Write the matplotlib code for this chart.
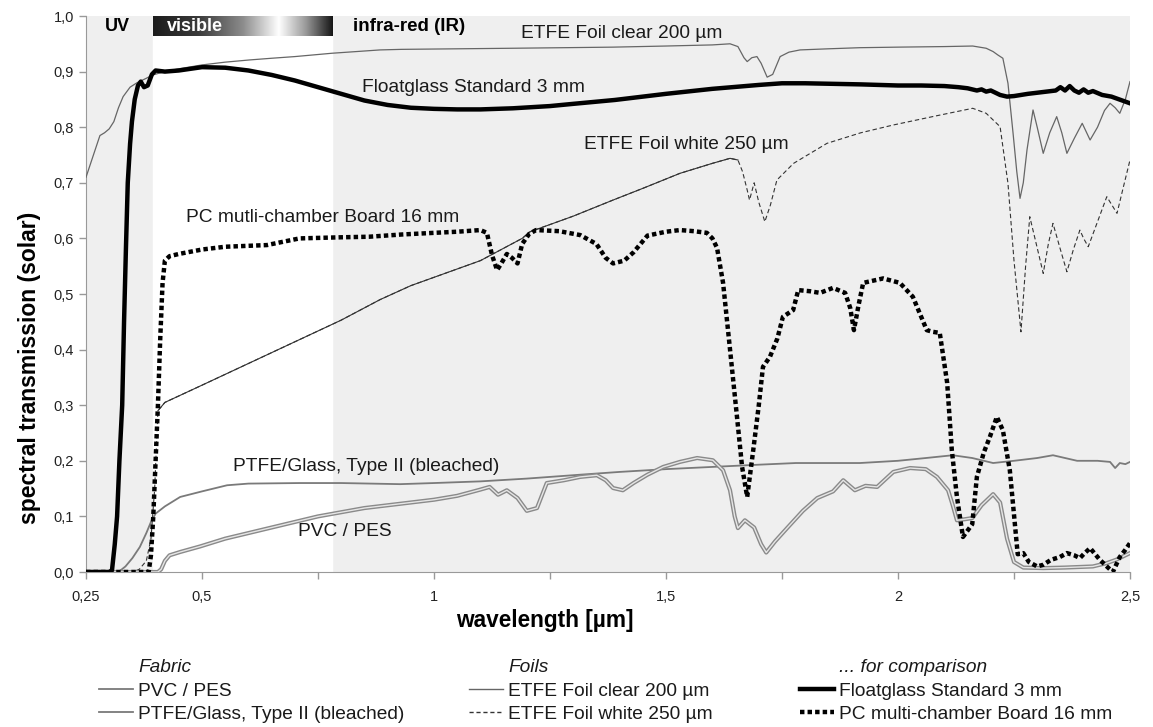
import numpy as np
import matplotlib
matplotlib.use("Agg")
import matplotlib.pyplot as plt
from matplotlib.colors import LinearSegmentedColormap
from matplotlib.lines import Line2D
from matplotlib.ticker import FixedLocator, FuncFormatter

plt.rcParams['font.family'] = ['Liberation Sans', 'DejaVu Sans']

# wavelength [um] / transmission
lam_float = [0.25, 0.30, 0.306, 0.312, 0.317, 0.322, 0.328, 0.332, 0.336, 0.340,
             0.345, 0.349, 0.355, 0.362, 0.368, 0.375, 0.383, 0.392, 0.40, 0.42,
             0.45, 0.50, 0.55, 0.60, 0.65, 0.70, 0.75, 0.80, 0.85, 0.90,
             0.95, 1.00, 1.05, 1.10, 1.17, 1.25, 1.30, 1.39, 1.45, 1.50,
             1.60, 1.70, 1.75, 1.80, 1.92, 2.00, 2.05, 2.10, 2.13, 2.15,
             2.17, 2.18, 2.19, 2.20, 2.21, 2.22, 2.235, 2.25, 2.28, 2.30,
             2.32, 2.34, 2.35, 2.36, 2.37, 2.38, 2.39, 2.40, 2.41, 2.42,
             2.44, 2.46, 2.48, 2.50]
T_float = [0.0, 0.0, 0.003, 0.05, 0.1, 0.2, 0.3, 0.45, 0.58, 0.7,
           0.77, 0.81, 0.85, 0.875, 0.882, 0.872, 0.875, 0.895, 0.902, 0.9,
           0.902, 0.908, 0.907, 0.902, 0.894, 0.884, 0.872, 0.86, 0.848, 0.84,
           0.835, 0.833, 0.832, 0.832, 0.834, 0.838, 0.842, 0.849, 0.855, 0.86,
           0.869, 0.876, 0.879, 0.879, 0.877, 0.875, 0.875, 0.874, 0.872, 0.870,
           0.866, 0.868, 0.864, 0.866, 0.862, 0.858, 0.855, 0.856, 0.86, 0.862,
           0.864, 0.866, 0.872, 0.866, 0.874, 0.866, 0.862, 0.868, 0.862, 0.865,
           0.858, 0.855, 0.849, 0.843]

lam_pc = [0.25, 0.385, 0.39, 0.395, 0.40, 0.405, 0.41, 0.415, 0.42, 0.43,
          0.45, 0.50, 0.55, 0.64, 0.71, 0.80, 0.86, 0.93, 1.00, 1.05,
          1.10, 1.114, 1.125, 1.136, 1.145, 1.157, 1.168, 1.18, 1.19, 1.205,
          1.22, 1.27, 1.315, 1.35, 1.37, 1.386, 1.41, 1.43, 1.46, 1.50,
          1.53, 1.56, 1.588, 1.60, 1.61, 1.623, 1.638, 1.653, 1.664, 1.675,
          1.688, 1.70, 1.709, 1.724, 1.74, 1.752, 1.774, 1.785, 1.81, 1.832,
          1.86, 1.886, 1.897, 1.905, 1.915, 1.925, 1.968, 2.004, 2.032, 2.062,
          2.075, 2.09, 2.106, 2.116, 2.127, 2.14, 2.16, 2.17, 2.185, 2.198,
          2.213, 2.226, 2.241, 2.258, 2.27, 2.282, 2.30, 2.313, 2.33, 2.349,
          2.364, 2.38, 2.392, 2.40, 2.414, 2.435, 2.45, 2.463, 2.478, 2.49,
          2.50]
T_pc = [0.0, 0.0, 0.03, 0.1, 0.2, 0.3, 0.42, 0.52, 0.56, 0.568,
        0.572, 0.58, 0.585, 0.588, 0.6, 0.602, 0.603, 0.607, 0.61, 0.612,
        0.615, 0.61, 0.57, 0.543, 0.555, 0.572, 0.565, 0.555, 0.59, 0.608,
        0.615, 0.613, 0.606, 0.59, 0.565, 0.555, 0.56, 0.575, 0.605, 0.612,
        0.615, 0.613, 0.61, 0.6, 0.583, 0.52, 0.4, 0.279, 0.189, 0.135,
        0.219, 0.3, 0.369, 0.387, 0.42, 0.459, 0.471, 0.507, 0.505, 0.502,
        0.511, 0.502, 0.475, 0.435, 0.48, 0.52, 0.528, 0.52, 0.495, 0.435,
        0.432, 0.43, 0.34, 0.219, 0.135, 0.063, 0.086, 0.171, 0.215, 0.243,
        0.279, 0.255, 0.183, 0.032, 0.034, 0.018, 0.01, 0.013, 0.022, 0.027,
        0.034, 0.03, 0.025, 0.032, 0.043, 0.022, 0.01, 0.0, 0.027, 0.04,
        0.052]

lam_clear = [0.25, 0.26, 0.27, 0.28, 0.29, 0.30, 0.31, 0.32, 0.33, 0.345,
             0.36, 0.38, 0.394, 0.42, 0.45, 0.50, 0.55, 0.603, 0.65, 0.70,
             0.78, 0.884, 0.93, 1.05, 1.17, 1.28, 1.386, 1.50, 1.60, 1.638,
             1.655, 1.668, 1.675, 1.685, 1.696, 1.705, 1.718, 1.73, 1.746, 1.765,
             1.789, 1.85, 1.918, 2.0, 2.1, 2.161, 2.19, 2.205, 2.215, 2.226,
             2.237, 2.248, 2.256, 2.263, 2.27, 2.278, 2.291, 2.30, 2.313, 2.327,
             2.342, 2.353, 2.364, 2.38, 2.397, 2.414, 2.43, 2.445, 2.457, 2.468,
             2.478, 2.49, 2.50]
T_clear = [0.71, 0.735, 0.76, 0.785, 0.79, 0.797, 0.81, 0.835, 0.855, 0.872,
           0.88, 0.888, 0.894, 0.9, 0.905, 0.912, 0.917, 0.921, 0.924, 0.927,
           0.933, 0.939, 0.94, 0.941, 0.942, 0.943, 0.944, 0.946, 0.948, 0.95,
           0.945, 0.925, 0.918, 0.925, 0.927, 0.915, 0.89, 0.895, 0.927, 0.935,
           0.939, 0.941, 0.943, 0.944, 0.945, 0.946, 0.942, 0.936, 0.93, 0.924,
           0.879, 0.789, 0.72, 0.672, 0.7, 0.759, 0.831, 0.8, 0.753, 0.79,
           0.819, 0.79, 0.753, 0.78, 0.807, 0.777, 0.8, 0.83, 0.843, 0.835,
           0.825, 0.85, 0.882]

lam_white = [0.25, 0.35, 0.365, 0.38, 0.39, 0.398, 0.405, 0.42, 0.5, 0.6,
             0.7, 0.8, 0.884, 0.95, 1.0, 1.1, 1.19, 1.207, 1.3, 1.386,
             1.45, 1.53, 1.6, 1.638, 1.655, 1.665, 1.675, 1.68, 1.69, 1.70,
             1.713, 1.725, 1.739, 1.775, 1.847, 1.92, 1.99, 2.08, 2.161, 2.19,
             2.205, 2.22, 2.237, 2.25, 2.265, 2.275, 2.284, 2.298, 2.313, 2.324,
             2.334, 2.35, 2.364, 2.378, 2.392, 2.40, 2.41, 2.43, 2.45, 2.472,
             2.485, 2.50]
T_white = [0.0, 0.0, 0.005, 0.02, 0.06, 0.15, 0.29, 0.305, 0.336, 0.375,
           0.414, 0.453, 0.49, 0.515, 0.53, 0.56, 0.6, 0.612, 0.64, 0.669,
           0.69, 0.717, 0.735, 0.744, 0.741, 0.72, 0.687, 0.669, 0.70, 0.665,
           0.63, 0.66, 0.705, 0.735, 0.771, 0.79, 0.804, 0.82, 0.834, 0.825,
           0.813, 0.801, 0.699, 0.56, 0.432, 0.55, 0.639, 0.59, 0.537, 0.59,
           0.627, 0.58, 0.54, 0.58, 0.615, 0.6, 0.585, 0.63, 0.675, 0.645,
           0.69, 0.741]

lam_ptfe = [0.25, 0.32, 0.335, 0.35, 0.366, 0.38, 0.39, 0.40, 0.42, 0.453,
            0.50, 0.554, 0.60, 0.711, 0.80, 0.927, 1.0, 1.1, 1.2, 1.315,
            1.40, 1.50, 1.60, 1.70, 1.78, 1.85, 1.918, 2.0, 2.06, 2.118,
            2.16, 2.205, 2.25, 2.30, 2.334, 2.386, 2.43, 2.457, 2.468, 2.478,
            2.49, 2.50]
T_ptfe = [0.0, 0.0, 0.01, 0.025, 0.045, 0.07, 0.09, 0.105, 0.118, 0.135,
          0.145, 0.156, 0.159, 0.16, 0.16, 0.158, 0.16, 0.163, 0.168, 0.175,
          0.18, 0.185, 0.189, 0.193, 0.196, 0.196, 0.196, 0.2, 0.205, 0.21,
          0.205, 0.196, 0.2, 0.205, 0.21, 0.2, 0.2, 0.198, 0.187, 0.196,
          0.194, 0.198]

lam_pvc = [0.25, 0.405, 0.412, 0.42, 0.43, 0.453, 0.496, 0.55, 0.65, 0.75,
           0.85, 0.95, 1.0, 1.05, 1.099, 1.12, 1.138, 1.157, 1.18, 1.20,
           1.222, 1.243, 1.28, 1.315, 1.351, 1.37, 1.386, 1.407, 1.43, 1.46,
           1.494, 1.53, 1.567, 1.601, 1.623, 1.638, 1.648, 1.655, 1.67, 1.69,
           1.705, 1.716, 1.735, 1.761, 1.795, 1.826, 1.86, 1.882, 1.907, 1.93,
           1.955, 1.99, 2.026, 2.06, 2.084, 2.108, 2.118, 2.127, 2.145, 2.16,
           2.18, 2.205, 2.22, 2.235, 2.25, 2.27, 2.313, 2.36, 2.42, 2.45,
           2.47, 2.50]
T_pvc = [0.0, 0.0, 0.005, 0.02, 0.03, 0.036, 0.046, 0.06, 0.08, 0.1,
         0.115, 0.125, 0.13, 0.137, 0.148, 0.153, 0.139, 0.147, 0.133, 0.11,
         0.115, 0.16, 0.165, 0.171, 0.174, 0.165, 0.151, 0.147, 0.16, 0.175,
         0.189, 0.198, 0.205, 0.201, 0.183, 0.147, 0.1, 0.079, 0.093, 0.08,
         0.05, 0.035, 0.055, 0.079, 0.11, 0.133, 0.145, 0.165, 0.147, 0.155,
         0.153, 0.18, 0.187, 0.185, 0.171, 0.147, 0.12, 0.093, 0.095, 0.097,
         0.12, 0.14, 0.125, 0.06, 0.018, 0.008, 0.007, 0.008, 0.01, 0.016,
         0.022, 0.034]

visible_band = (0.394, 0.78)
xtick_vals = [0.25, 0.5, 0.75, 1.0, 1.25, 1.5, 1.75, 2.0, 2.25, 2.5]
xtick_shown = {0.25: '0,25', 0.5: '0,5', 1.0: '1', 1.5: '1,5', 2.0: '2', 2.5: '2,5'}

fig = plt.figure(figsize=(11.53, 7.27), dpi=100)
ax = fig.add_axes([86 / 1153, 1 - 572 / 727, 1044 / 1153, 556 / 727])
ax.set_facecolor('#efefef')
ax.axvspan(*visible_band, color='white', zorder=0)

# gradient bar for the visible range
grad_cmap = LinearSegmentedColormap.from_list(
    'vis', [(0, '#1c1c1c'), (0.25, '#3a3a3a'), (0.5, '#8c8c8c'),
            (0.7, '#ffffff'), (0.85, '#9a9a9a'), (1.0, '#161616')])
ax.imshow(np.linspace(0, 1, 256)[None, :], cmap=grad_cmap, aspect='auto',
          extent=[visible_band[0], visible_band[1], 0.964, 1.0], zorder=2)

lam_white_a = np.array(lam_white)
T_white_a = np.array(T_white)
mid = (lam_white_a >= 0.405) & (lam_white_a <= 1.655)
ax.plot(lam_white_a, T_white_a, color='#333333', lw=0.8, ls=(0, (4, 2.5)), zorder=3)
ax.plot(lam_white_a[mid], T_white_a[mid], color='#333333', lw=0.8, zorder=3)
ax.plot(lam_clear, T_clear, color='#666666', lw=0.9, zorder=3)
ax.plot(lam_ptfe, T_ptfe, color='#7a7a7a', lw=1.3, zorder=3)
ax.plot(lam_pvc, T_pvc, color='#8a8a8a', lw=3.0, zorder=3)
ax.plot(lam_pvc, T_pvc, color='#e6e6e6', lw=1.0, zorder=3)
ax.plot(lam_pc, T_pc, color='black', lw=3.2, ls=(0, (1, 0.7)), zorder=4)
ax.plot(lam_float, T_float, color='black', lw=3.2, zorder=4)

ax.set_xlim(0.25, 2.5)
ax.set_ylim(0, 1.0)

ax.xaxis.set_major_locator(FixedLocator(xtick_vals))
ax.xaxis.set_major_formatter(FuncFormatter(lambda v, p: xtick_shown.get(round(v, 2), '')))
ax.yaxis.set_major_locator(FixedLocator(np.round(np.arange(0, 1.01, 0.1), 1)))
ax.yaxis.set_major_formatter(FuncFormatter(lambda v, p: f'{v:.1f}'.replace('.', ',')))
ax.tick_params(axis='both', colors='#999999', labelcolor='#222222', labelsize=10.5,
               length=5, width=1)
ax.tick_params(axis='x', pad=8)
for s in ['top', 'right']:
    ax.spines[s].set_visible(False)
for s in ['left', 'bottom']:
    ax.spines[s].set_color('#999999')

ax.set_xlabel('wavelength [µm]', fontsize=16.3, fontweight='bold')
ax.xaxis.set_label_coords((545 - 86) / 1044, -(620 - 572) / 556)
ax.xaxis.label.set_va('center')
ax.set_ylabel('spectral transmission (solar)', fontsize=16.5, fontweight='bold')
ax.yaxis.set_label_coords((29 - 86) / 1044, (572 - 368) / 556)
ax.yaxis.label.set_va('center')

# region labels
ax.text(0.317, 0.981, 'UV', fontsize=13, fontweight='bold', ha='center', va='center', zorder=5)
ax.text(0.425, 0.981, 'visible', fontsize=13, fontweight='bold', color='white',
        ha='left', va='center', zorder=5)
ax.text(0.825, 0.981, 'infra-red (IR)', fontsize=13.5, fontweight='bold',
        ha='left', va='center', zorder=5)

# curve labels
ann = dict(fontsize=13.8, ha='center', va='center', color='#1a1a1a', zorder=5)
ax.text(1.405, 0.969, 'ETFE Foil clear 200 µm', **ann)
ax.text(1.086, 0.872, 'Floatglass Standard 3 mm', **ann)
ax.text(1.543, 0.768, 'ETFE Foil white 250 µm', **ann)
ax.text(0.759, 0.637, 'PC mutli-chamber Board 16 mm', **ann)
ax.text(0.853, 0.189, 'PTFE/Glass, Type II (bleached)', **ann)
ax.text(0.808, 0.072, 'PVC / PES', **ann)

# legend: three columns with an italic header each
blank = Line2D([], [], color='none')
cols = [
    (99, ['Fabric', 'PVC / PES', 'PTFE/Glass, Type II (bleached)'],
     [blank, Line2D([], [], color='#7a7a7a', lw=1.3), Line2D([], [], color='#7a7a7a', lw=1.3)]),
    (469, ['Foils', 'ETFE Foil clear 200 µm', 'ETFE Foil white 250 µm'],
     [blank, Line2D([], [], color='#666666', lw=1.0),
      Line2D([], [], color='#333333', lw=1.0, ls=(0, (3, 2)))]),
    (800, ['... for comparison', 'Floatglass Standard 3 mm', 'PC multi-chamber Board 16 mm'],
     [blank, Line2D([], [], color='black', lw=3.2),
      Line2D([], [], color='black', lw=3.2, ls=(0, (1, 0.7)))]),
]
for x0, labels, handles in cols:
    leg = fig.legend(handles, labels, loc='upper left',
                     bbox_to_anchor=(x0 / 1153, 1 - 659 / 727), frameon=False,
                     fontsize=13.8, handlelength=1.75, handletextpad=0.3,
                     borderpad=0, borderaxespad=0, labelspacing=0.3)
    leg.get_texts()[0].set_fontstyle('italic')
    for t in leg.get_texts():
        t.set_color('#1a1a1a')

fig.savefig('out.png', dpi=100)
